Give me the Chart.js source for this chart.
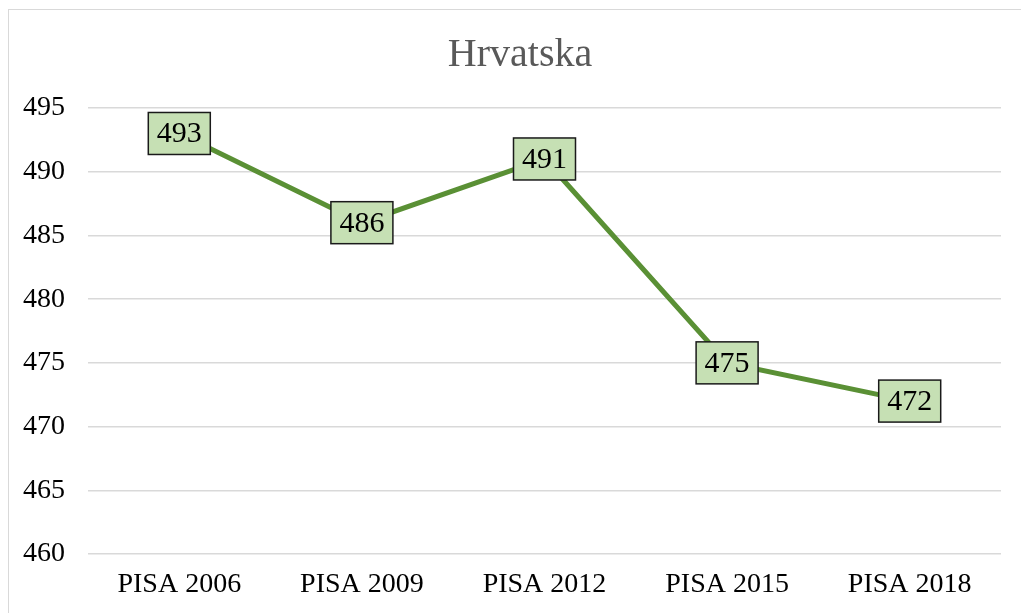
<!DOCTYPE html>
<html>
<head>
<meta charset="utf-8">
<script src="https://cdn.jsdelivr.net/npm/chart.js@4/dist/chart.umd.min.js"></script>
<style>
    html, body { margin: 0; padding: 0; background: #fff; }
    #wrap { position: relative; width: 1021px; height: 613px; }
    #frame { position: absolute; left: 8px; top: 9px; width: 1030px; height: 620px; border: 1.5px solid #d9d9d9; box-sizing: border-box; }
    canvas { position: absolute; left: 0; top: 0; }
</style>
</head>
<body>
<div id="wrap">
    <div id="frame"></div>
    <canvas id="pisaChart" width="1021" height="613"></canvas>
</div>
<script>
const chartTitle = 'Hrvatska';
const categories = ['PISA 2006', 'PISA 2009', 'PISA 2012', 'PISA 2015', 'PISA 2018'];
const scores = [493, 486, 491, 475, 472];
const yTicks = [460, 465, 470, 475, 480, 485, 490, 495];

const serif = '"Liberation Serif", "Times New Roman", serif';

// title sits centred on the outer frame, not the canvas, so draw it by hand
const frameTitle = {
    id: 'frameTitle',
    afterDraw(chart) {
        const ctx = chart.ctx;
        ctx.save();
        ctx.font = '40px ' + serif;
        ctx.fillStyle = '#595959';
        ctx.textAlign = 'center';
        ctx.textBaseline = 'middle';
        ctx.fillText(chartTitle, 520, 55);
        ctx.restore();
    }
};

// draws the boxed value labels over each point
const boxLabels = {
    id: 'boxLabels',
    afterDatasetsDraw(chart) {
        const ctx = chart.ctx;
        const meta = chart.getDatasetMeta(0);
        ctx.save();
        ctx.font = '30px ' + serif;
        ctx.textAlign = 'center';
        ctx.textBaseline = 'middle';
        meta.data.forEach((pt, i) => {
            const w = 62, h = 42;
            const x = pt.x - w / 2, y = pt.y - h / 2;
            ctx.fillStyle = '#c6e0b4';
            ctx.fillRect(x, y, w, h);
            ctx.strokeStyle = '#1a1a1a';
            ctx.lineWidth = 1.5;
            ctx.strokeRect(x, y, w, h);
            ctx.fillStyle = '#000';
            ctx.fillText(String(scores[i]), pt.x, pt.y + 1);
        });
        ctx.restore();
    }
};

new Chart(document.getElementById('pisaChart').getContext('2d'), {
    type: 'line',
    data: {
        labels: categories,
        datasets: [{
            data: scores,
            borderColor: '#5a9035',
            borderWidth: 5,
            pointRadius: 0,
            fill: false,
            tension: 0
        }]
    },
    options: {
        responsive: false,
        animation: false,
        layout: { padding: { left: 10, right: 20, top: 108, bottom: 0 } },
        scales: {
            x: {
                offset: true,
                grid: { display: false },
                border: { display: false },
                ticks: { color: '#000', font: { family: serif, size: 28 }, padding: 6 },
                afterFit(scale) { scale.height = 59; }
            },
            y: {
                min: 460,
                max: 495,
                afterBuildTicks(scale) { scale.ticks = yTicks.map(v => ({ value: v })); },
                grid: { color: '#d9d9d9', lineWidth: 1.5, drawTicks: false },
                border: { display: false },
                ticks: { color: '#000', font: { family: serif, size: 28 }, padding: 23 },
                afterFit(scale) { scale.width = 78; }
            }
        },
        plugins: {
            legend: { display: false },
            tooltip: { enabled: false },
            title: { display: false }
        }
    },
    plugins: [boxLabels, frameTitle]
});
</script>
</body>
</html>
